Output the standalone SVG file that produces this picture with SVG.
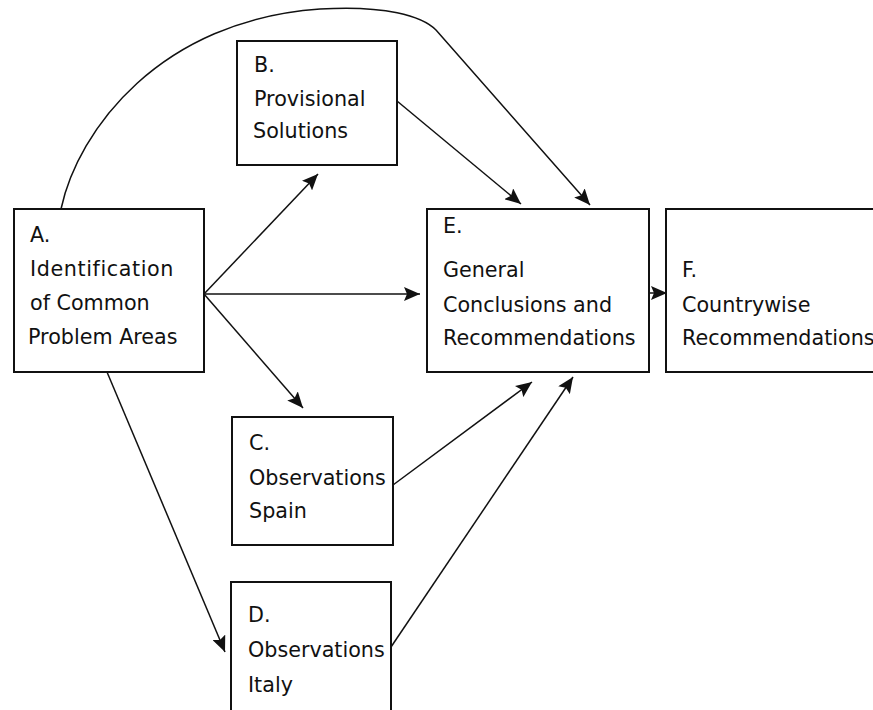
<svg xmlns="http://www.w3.org/2000/svg" width="873" height="710" viewBox="0 0 873 710">
<style>
.box{fill:none;stroke:#111;stroke-width:2}
.lbl{font-family:"DejaVu Sans","Liberation Sans",sans-serif;font-size:20.7px;fill:#111}
.con{fill:none;stroke:#111;stroke-width:1.5}
</style>
<defs>
<marker id="ah" markerUnits="userSpaceOnUse" markerWidth="18" markerHeight="14" refX="16" refY="7" orient="auto">
<path d="M0,0 L16,7 L0,14 L3,7 z" fill="#111"/>
</marker>
</defs>
<rect width="873" height="710" fill="#fff"/>
<g id="connectors">
<path class="con" d="M61,209 C78,130 160,20 320,9 C385,5 422,16 436,30 L590,205" marker-end="url(#ah)"/>
<path class="con" d="M204,294 L318,174" marker-end="url(#ah)"/>
<path class="con" d="M204,294 L420,294" marker-end="url(#ah)"/>
<path class="con" d="M204,294 L303,408" marker-end="url(#ah)"/>
<path class="con" d="M107,372 L225,652" marker-end="url(#ah)"/>
<path class="con" d="M397,101 L521,204" marker-end="url(#ah)"/>
<path class="con" d="M393,485 L532,382" marker-end="url(#ah)"/>
<path class="con" d="M391,647 L573,377" marker-end="url(#ah)"/>
<path class="con" d="M649,293 L667,293" marker-end="url(#ah)"/>
</g>
<g id="nodeA">
<rect class="box" x="14" y="209" width="190" height="163"/>
<text class="lbl" x="30" y="242">A.</text>
<text class="lbl" x="30" y="276" letter-spacing="0.6">Identification</text>
<text class="lbl" x="30" y="310">of Common</text>
<text class="lbl" x="28" y="344">Problem Areas</text>
</g>
<g id="nodeB">
<rect class="box" x="237" y="41" width="160" height="124"/>
<text class="lbl" x="254" y="72">B.</text>
<text class="lbl" x="254" y="106">Provisional</text>
<text class="lbl" x="253" y="138">Solutions</text>
</g>
<g id="nodeC">
<rect class="box" x="232" y="417" width="161" height="128"/>
<text class="lbl" x="249" y="450">C.</text>
<text class="lbl" x="249" y="485">Observations</text>
<text class="lbl" x="249" y="518">Spain</text>
</g>
<g id="nodeD">
<path class="box" d="M231,715 L231,582 L391,582 L391,715"/>
<text class="lbl" x="248" y="622">D.</text>
<text class="lbl" x="248" y="657">Observations</text>
<text class="lbl" x="248" y="692">Italy</text>
</g>
<g id="nodeE">
<rect class="box" x="427" y="209" width="222" height="163"/>
<text class="lbl" x="443" y="233">E.</text>
<text class="lbl" x="443" y="277">General</text>
<text class="lbl" x="443" y="312">Conclusions and</text>
<text class="lbl" x="443" y="345">Recommendations</text>
</g>
<g id="nodeF">
<path class="box" d="M880,209 L666,209 L666,372 L880,372"/>
<text class="lbl" x="682" y="277">F.</text>
<text class="lbl" x="682" y="312">Countrywise</text>
<text class="lbl" x="682" y="345">Recommendations</text>
</g>
</svg>
